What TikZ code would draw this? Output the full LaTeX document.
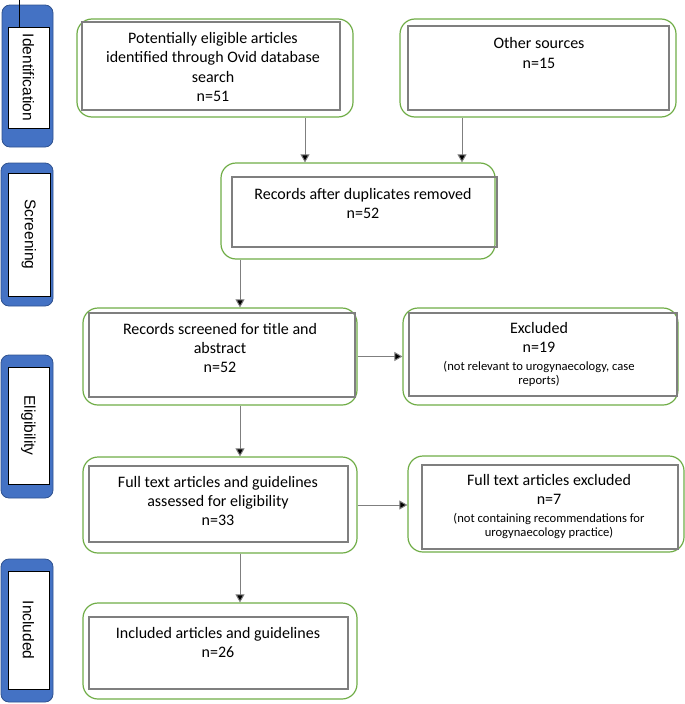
\documentclass[tikz,border=0pt]{standalone}
\usepackage{fontspec}
\setmainfont{Carlito}
\newfontfamily\sidefont{Liberation Sans}
\usetikzlibrary{arrows.meta,calc}
\definecolor{pgreen}{HTML}{70AD47}
\definecolor{pblue}{HTML}{4472C4}
\definecolor{pbluedark}{HTML}{2F528F}
\definecolor{pgray}{HTML}{7F7F7F}
\tikzset{
  greenbox/.style={draw=pgreen,line width=1.2pt,rounded corners=15pt,inner sep=0pt,fill=white},
  graybox/.style={draw=pgray,line width=1.3pt,inner sep=0pt},
  bluebox/.style={draw=pbluedark,fill=pblue,line width=0.8pt,rounded corners=8pt,inner sep=0pt},
  whitebox/.style={draw=black,fill=white,line width=0.8pt,inner sep=0pt},
  sidelabel/.style={font=\sidefont\fontsize{15.5}{18}\selectfont,rotate=-90,inner sep=0pt},
  maintext/.style={font=\fontsize{16}{19.3}\selectfont,align=center,inner sep=0pt},
  arr/.style={draw=pgray,line width=1pt,-{Triangle[length=8pt,width=9pt,fill=black]}},
}
\newcommand{\smalltxt}{\fontsize{12.6}{14.5}\selectfont}
\begin{document}
\begin{tikzpicture}[x=1pt,y=-1pt]
\useasboundingbox (0,0) rectangle (685,704);
% side boxes
\node[bluebox,minimum width=51pt,minimum height=142pt] (s1) at (27.5,76) {};
\node[whitebox,minimum width=41pt,minimum height=101pt] (s1i) at (28.5,77.5) {};
\node[sidelabel] (s1t) at (s1i.center) {Identification};
\node[bluebox,minimum width=52pt,minimum height=143pt] (s2) at (27,234.5) {};
\node[whitebox,minimum width=42pt,minimum height=123pt] (s2i) at (29,234.5) {};
\node[sidelabel] (s2t) at (s2i.center) {Screening};
\node[bluebox,minimum width=52pt,minimum height=143pt] (s3) at (27,426.5) {};
\node[whitebox,minimum width=41pt,minimum height=117pt] (s3i) at (28.5,425.5) {};
\node[sidelabel] (s3t) at (s3i.center) {Eligibility};
\node[bluebox,minimum width=52pt,minimum height=143pt] (s4) at (27,630.5) {};
\node[whitebox,minimum width=41pt,minimum height=118pt] (s4i) at (28.5,630) {};
\node[sidelabel] (s4t) at (s4i.center) {Included};
\coordinate (tick) at (19,0);
\draw[line width=0.8pt] (tick) -- (s1i.north -| tick);
% green boxes
\node[greenbox,minimum width=276pt,minimum height=98pt] (b1) at (215,68) {};
\node[graybox,minimum width=258pt,minimum height=88pt] (b1i) at (211,66) {};
\node[maintext] (b1t) at (213,67) {Potentially eligible articles\\identified through Ovid database\\search\\n=51};

\node[greenbox,minimum width=276pt,minimum height=98pt] (b2) at (538,68) {};
\node[graybox,minimum width=261pt,minimum height=84pt] (b2i) at (538.5,68) {};
\node[maintext] (b2t) at (539,53) {Other sources\\n=15};

\node[greenbox,minimum width=274pt,minimum height=96pt] (b3) at (358,211) {};
\node[graybox,minimum width=265pt,minimum height=70pt] (b3i) at (364.5,212) {};
\node[maintext] (b3t) at (363,203.5) {Records after duplicates removed\\n=52};

\node[greenbox,minimum width=274pt,minimum height=97pt] (b4) at (220,356.5) {};
\node[graybox,minimum width=266pt,minimum height=84pt] (b4i) at (222,355) {};
\node[maintext] (b4t) at (220,348) {Records screened for title and\\abstract\\n=52};

\node[greenbox,minimum width=275pt,minimum height=97pt] (b5) at (540.5,356.5) {};
\node[graybox,minimum width=268pt,minimum height=83pt] (b5i) at (543,354.5) {};
\node[maintext] (b5t) at (539,354.5) {Excluded\\n=19\\[-2pt]{\smalltxt(not relevant to urogynaecology, case}\\[-5pt]{\smalltxt reports)}};

\node[greenbox,minimum width=274pt,minimum height=96pt] (b6) at (220,505) {};
\node[graybox,minimum width=259pt,minimum height=76pt] (b6i) at (218.5,504) {};
\node[maintext] (b6t) at (218,501) {Full text articles and guidelines\\assessed for eligibility\\n=33};

\node[greenbox,minimum width=276pt,minimum height=96pt] (b7) at (546,504) {};
\node[graybox,minimum width=256pt,minimum height=84pt] (b7i) at (550,507) {};
\node[maintext] (b7t) at (549,506.5) {Full text articles excluded\\n=7\\[-2pt]{\smalltxt(not containing recommendations for}\\[-5pt]{\smalltxt urogynaecology practice)}};

\node[greenbox,minimum width=274pt,minimum height=96pt] (b8) at (220,651) {};
\node[graybox,minimum width=259pt,minimum height=72pt] (b8i) at (218.5,653) {};
\node[maintext] (b8t) at (218,642.5) {Included articles and guidelines\\n=26};

% connectors
\draw[arr] ([xshift=90pt]b1.south) -- ([xshift=90pt]b1.south |- b3.north);
\draw[arr] ([xshift=-76pt]b2.south) -- ([xshift=-76pt]b2.south |- b3.north);
\draw[arr] ([xshift=-118pt]b3.south) -- ([xshift=-118pt]b3.south |- b4.north);
\draw[arr] ([xshift=20pt]b4.south) -- ([xshift=20pt]b4.south |- b6.north);
\draw[arr] ([xshift=20pt]b6.south) -- ([xshift=20pt]b6.south |- b8.north);
\draw[arr] (b4.east) -- (b4.east -| b5.west);
\draw[arr] (b6.east) -- (b6.east -| b7.west);
\end{tikzpicture}
\end{document}
